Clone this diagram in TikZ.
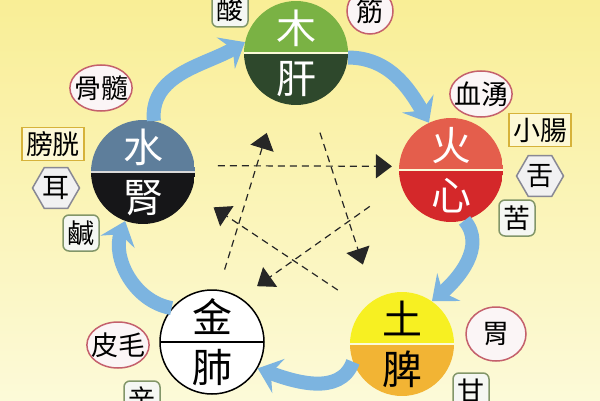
\documentclass[tikz,border=0pt]{standalone}
\usepackage{fontspec}
\newfontfamily\cjk{Noto Sans CJK TC}
\usetikzlibrary{arrows.meta,shapes.geometric}
\definecolor{bgtop}{RGB}{249,238,150}
\definecolor{bgbot}{RGB}{252,250,216}
\definecolor{woodtop}{RGB}{122,178,68}
\definecolor{woodbot}{RGB}{46,72,44}
\definecolor{firetop}{RGB}{228,94,76}
\definecolor{firebot}{RGB}{212,40,42}
\definecolor{earthtop}{RGB}{247,240,34}
\definecolor{earthbot}{RGB}{242,180,52}
\definecolor{watertop}{RGB}{94,126,155}
\definecolor{waterbot}{RGB}{22,22,24}
\definecolor{shengblue}{RGB}{124,180,224}
\definecolor{tastegreen}{RGB}{130,150,105}
\definecolor{tissuered}{RGB}{196,96,108}
\definecolor{fugold}{RGB}{214,178,58}
\definecolor{hexgray}{RGB}{136,136,148}
\tikzset{
  element/.style n args = {3}{circle, minimum size=104pt, inner sep=0pt,
    align=center, font=\cjk\fontsize{40}{50}\selectfont,
    path picture={
      \fill[#1] (path picture bounding box.north west) rectangle (path picture bounding box.east);
      \fill[#2] (path picture bounding box.west) rectangle (path picture bounding box.south east);
      \draw[#3, line width=1.5pt] (path picture bounding box.west) -- (path picture bounding box.east);
    }},% wu xing, two halves
  label/.style = {font=\cjk\fontsize{27}{27}\selectfont, line width=1.5pt},
  taste/.style = {label, rectangle, rounded corners=6pt, draw=tastegreen,
    fill=white!92!tastegreen, minimum size=36pt, inner sep=0pt},% wei
  tissue/.style = {label, ellipse, draw=tissuered, fill=white!94!tissuered,
    inner xsep=-5pt, inner ysep=3pt, minimum width=46pt, minimum height=46pt},
  fu/.style = {label, rectangle, draw=fugold, fill=bgtop!40!white,
    inner xsep=4pt, minimum height=33pt},% fu organ
  sense/.style = {label, regular polygon, regular polygon sides=6,
    draw=hexgray, fill=white!88!hexgray, minimum size=47pt, inner sep=0pt},
  sheng/.style = {draw=shengblue, line width=14pt,
    -{Stealth[length=22pt, width=36pt, inset=8pt]}},% generating
  ke/.style = {draw=black!85, line width=1.2pt, dash pattern=on 7pt off 5pt,
    -{Triangle[length=16pt, width=24pt]}}% controlling
}

\begin{document}
\begin{tikzpicture}[x=1pt, y=1pt]
\useasboundingbox (0,0) rectangle (600,400);
\clip (0,0) rectangle (600,400);
\shade[top color=bgtop, bottom color=bgbot] (0,0) rectangle (600,400);

% five elements
\node[element={woodtop}{woodbot}{bgbot}, text=white] (wood) at (296,347) {木\\肝};
\node[element={firetop}{firebot}{bgbot}, text=white] (fire) at (451,230) {火\\心};
\node[element={earthtop}{earthbot}{bgbot}] (earth) at (402,56) {土\\脾};
\node[element={white}{white}{black}, draw=black, line width=1.5pt] (metal) at (212,58) {金\\肺};
\node[element={watertop}{waterbot}{white!85!black}, text=white] (water) at (143,228) {水\\腎};

% labels
\node[taste] (suan) at (230,391) {酸};
\node[tissue] (jin) at (370,389) {筋};
\node[tissue] (gusui) at (101,312) {骨髓};
\node[fu] (pangguang) at (53,256) {膀胱};
\node[sense] (er) at (56,212) {耳};
\node[taste] (xian) at (81,167) {鹹};
\node[tissue] (xueyong) at (481,306) {血湧};
\node[fu] (xiaochang) at (540,270) {小腸};
\node[sense] (she) at (540,224) {舌};
\node[taste] (ku) at (517,182) {苦};
\node[tissue] (pimao) at (118,55) {皮毛};
\node[taste] (xin) at (142,1) {辛};
\node[tissue, minimum width=60pt, minimum height=54pt] (wei) at (496,66) {胃};
\node[taste] (gan) at (471,9) {甘};

% ke cycle
\draw[ke, shorten <=23pt, shorten >=7pt] (water.7) -- (fire.176);
\draw[ke, shorten <=31pt, shorten >=37pt] (wood.-74) -- (earth.122);
\draw[ke, shorten <=21pt, shorten >=33pt] (metal.83) -- (wood.248);
\draw[ke, shorten <=38pt, shorten >=20pt] (fire.196) -- (metal.57);
\draw[ke, shorten <=32pt, shorten >=27pt] (earth.136) -- (water.-23);

% sheng cycle
\draw[sheng] (water.78) to[out=95, in=210] (wood.168);
\draw[sheng] (wood.-5) to[out=0, in=120] (fire.115);
\draw[sheng] (fire.-75) to[out=-50, in=40] (earth.55);
\draw[sheng] (earth.200) to[out=-110, in=-20] (metal.-30);
\draw[sheng] (metal.140) to[out=170, in=-110] (water.250);
\end{tikzpicture}
\end{document}
